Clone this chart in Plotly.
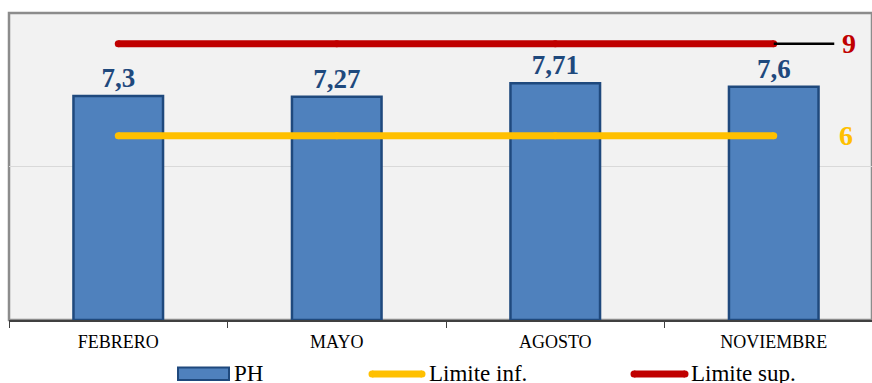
import plotly.graph_objects as go

# pH monitoring per campaign, with the allowed limits
meses = ["FEBRERO", "MAYO", "AGOSTO", "NOVIEMBRE"]
ph = [7.3, 7.27, 7.71, 7.6]
limite_inf = [6, 6, 6, 6]
limite_sup = [9, 9, 9, 9]

W, H = 872, 383
ML, MR, MT, MB = 9, 0, 13, 63
PW, PH_ = W - ML - MR, H - MT - MB

SERIF = "Liberation Serif"
AZUL = "#4f81bd"
AZUL_OSC = "#1f497d"
AMARILLO = "#ffc000"
ROJO = "#c00000"


def px(x):
    return (x - ML) / PW


def py(y):
    return (H - MB - y) / PH_


def etiqueta(v):
    return f"{v:g}".replace(".", ",")


fig = go.Figure()

fig.add_trace(go.Bar(
    x=meses, y=ph, width=0.41,
    marker=dict(color=AZUL, line=dict(color=AZUL_OSC, width=2.5)),
    text=[etiqueta(v) for v in ph], textposition="outside",
    textfont=dict(family=SERIF, size=27, color=AZUL_OSC),
    texttemplate="<b>%{text}</b>", cliponaxis=False,
    showlegend=False, hoverinfo="skip",
))

for serie, color in ((limite_inf, AMARILLO), (limite_sup, ROJO)):
    fig.add_trace(go.Scatter(
        x=meses, y=serie, mode="lines+markers",
        line=dict(color=color, width=7),
        marker=dict(color=color, size=7),
        showlegend=False, hoverinfo="skip",
    ))

# value labels for the limit lines
fig.add_annotation(
    x=meses[-1], y=limite_sup[-1], text=f"<b>{limite_sup[-1]}</b>",
    showarrow=True, ax=75, ay=0, arrowhead=0, arrowwidth=2.5,
    arrowcolor="black", startstandoff=6,
    font=dict(family=SERIF, size=28, color=ROJO),
)
fig.add_annotation(
    x=meses[-1], y=limite_inf[-1], text=f"<b>{limite_inf[-1]}</b>",
    showarrow=False, xshift=72,
    font=dict(family=SERIF, size=28, color=AMARILLO),
)

# legend drawn below the axis
ly = 374
shapes = [
    dict(type="rect", xref="paper", yref="paper", layer="below",
         x0=0, x1=1, y0=0, y1=1, fillcolor="#f2f2f2",
         line=dict(color="#8c8c8c", width=2.5)),
    dict(type="rect", xref="paper", yref="paper",
         x0=px(178), x1=px(229), y0=py(367.5), y1=py(380),
         fillcolor=AZUL, line=dict(color=AZUL_OSC, width=2)),
]
for x0, x1, color in ((372, 422, AMARILLO), (634, 685, ROJO)):
    shapes.append(dict(type="line", xref="paper", yref="paper",
                       x0=px(x0), x1=px(x1), y0=py(ly), y1=py(ly),
                       line=dict(color=color, width=7)))
    for xc in (x0, x1):
        shapes.append(dict(type="circle", xref="paper", yref="paper",
                           x0=px(xc - 3.5), x1=px(xc + 3.5),
                           y0=py(ly + 3.5), y1=py(ly - 3.5),
                           fillcolor=color, line=dict(width=0)))

for xt, txt in ((232, "PH"), (427, "Limite inf."), (689, "Limite sup.")):
    fig.add_annotation(x=px(xt), y=py(373), xref="paper", yref="paper",
                       xanchor="left", yanchor="middle", showarrow=False,
                       text=txt, font=dict(family=SERIF, size=23, color="black"))

fig.update_layout(
    width=W, height=H,
    margin=dict(l=ML, r=MR, t=MT, b=MB),
    paper_bgcolor="white", plot_bgcolor="#f2f2f2",
    shapes=shapes, bargap=0.59,
    font=dict(family=SERIF, color="black"),
)
fig.update_xaxes(
    type="category", range=[-0.5, -0.5 + PW / 218.5],
    tickson="boundaries", ticks="outside", ticklen=6, tickcolor="#404040",
    showline=True, linecolor="#404040", linewidth=1.5,
    showgrid=False, ticklabelstandoff=5,
    tickfont=dict(family=SERIF, size=18, color="black"),
)
fig.update_yaxes(
    range=[0, 10], dtick=5, showticklabels=False,
    showgrid=True, gridcolor="#d9d9d9", gridwidth=1, zeroline=False,
    showline=False,
)

fig.write_html("out.html")
